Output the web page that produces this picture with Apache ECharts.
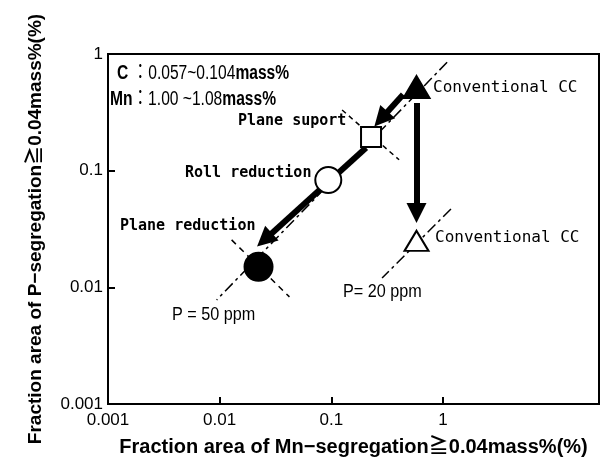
<!DOCTYPE html>
<html style="height: 100%">
<head>
    <meta charset="utf-8">
</head>
<body style="height: 100%; margin: 0; background: #fff">
    <div id="container" style="width: 606px; height: 468px"></div>
    <script type="text/javascript" src="https://cdn.jsdelivr.net/npm/echarts@6/dist/echarts.min.js"></script>
    <script type="text/javascript">
        // points (x: Mn-segregation area, y: P-segregation area)
        var conventionalCC = [[0.58, 0.52]];
        var conventionalCC20 = [[0.58, 0.025]];
        var planeSupport = [[0.227, 0.194]];
        var rollReduction = [[0.094, 0.083]];
        var planeReduction = [[0.0223, 0.015]];

        // guide lines
        var p50Line = [[1.09, 0.85], [0.0094, 0.0078]];
        var p20Line = [[1.18, 0.047], [0.285, 0.012]];
        var supportCross = [[0.125, 0.331], [0.405, 0.124]];
        var reductionCross = [[0.0128, 0.0255], [0.0422, 0.00828]];

        // thick arrows (from, to)
        var arrows = [
            [[0.44, 0.45], [0.279, 0.277]],
            [[0.205, 0.157], [0.0252, 0.0255]],
            [[0.58, 0.38], [0.58, 0.0434]]
        ];

        var tickValues = [0.001, 0.01, 0.1, 1];

        var dom = document.getElementById("container");
        var myChart = echarts.init(dom, null, { renderer: 'canvas' });

        var sans = "'Liberation Sans', 'Noto Sans CJK JP', sans-serif";
        var mono = "'DejaVu Sans Mono', monospace";

        function guide(data, dash) {
            return {
                type: 'line',
                data: data,
                showSymbol: false,
                silent: true,
                z: 1,
                lineStyle: { color: '#000', width: 1.5, type: dash }
            };
        }

        function marker(data, symbol, size, fill) {
            return {
                type: 'scatter',
                data: data,
                symbol: symbol,
                symbolSize: size,
                z: 5,
                itemStyle: { color: fill, borderColor: '#000', borderWidth: 2, opacity: 1 }
            };
        }

        // narrow-looking text: squeeze horizontally
        function narrowText(x, y, text, size, sx, rich) {
            var st = {
                text: text,
                font: size + 'px ' + sans,
                fill: '#000',
                verticalAlign: 'middle'
            };
            if (rich) st.rich = rich;
            return { type: 'text', x: x, y: y, scaleX: sx, style: st, z: 10 };
        }

        var infoRich = {
            b: { fontSize: 20, fontWeight: 'bold', fontFamily: sans, fill: '#000' },
            n: { fontSize: 20, fontFamily: sans, fill: '#000' }
        };

        var option = {
            backgroundColor: '#fff',
            animation: false,
            grid: {
                left: 108, right: 7, top: 54, bottom: 64,
                show: true, borderColor: '#000', borderWidth: 2
            },
            xAxis: {
                type: 'log',
                logBase: 10,
                min: 0.001,
                max: 25,
                name: 'Fraction area of Mn\u2212segregation\u22670.04mass%(%)',
                nameLocation: 'middle',
                nameGap: 33,
                nameTextStyle: { color: '#000', fontSize: 20, fontWeight: 'bold', fontFamily: sans },
                axisLine: { lineStyle: { color: '#000', width: 2 } },
                axisTick: { inside: true, length: 7, customValues: [0.01, 0.1, 1], lineStyle: { color: '#000', width: 2 } },
                axisLabel: {
                    customValues: tickValues,
                    color: '#000', fontSize: 17, fontFamily: sans, margin: 8,
                    formatter: function (v) { return String(v); }
                },
                splitLine: { show: false }
            },
            yAxis: {
                type: 'log',
                logBase: 10,
                min: 0.001,
                max: 1,
                name: 'Fraction area of P\u2212segregation\u22670.04mass%(%)',
                nameLocation: 'middle',
                nameGap: 63,
                nameTextStyle: { color: '#000', fontSize: 19, fontWeight: 'bold', fontFamily: sans },
                axisLine: { lineStyle: { color: '#000', width: 2 } },
                axisTick: { inside: true, length: 7, customValues: [0.01, 0.1], lineStyle: { color: '#000', width: 2 } },
                axisLabel: {
                    customValues: tickValues,
                    color: '#000', fontSize: 17, fontFamily: sans, margin: 5,
                    formatter: function (v) { return String(v); }
                },
                splitLine: { show: false }
            },
            series: [
                guide(p50Line, [11, 4, 3, 4]),
                guide(p20Line, [11, 4, 3, 4]),
                guide(supportCross, [5, 4]),
                guide(reductionCross, [6, 5]),
                {
                    type: 'lines',
                    coordinateSystem: 'cartesian2d',
                    z: 3,
                    symbol: ['none', 'triangle'],
                    symbolSize: [15, 20],
                    lineStyle: { color: '#000', width: 6, opacity: 1, curveness: 0 },
                    data: arrows.map(function (a) { return { coords: a }; })
                },
                marker(conventionalCC, 'triangle', [26, 22], '#000'),
                marker(conventionalCC20, 'triangle', [24, 20], '#fff'),
                marker(planeSupport, 'rect', 20, '#fff'),
                marker(rollReduction, 'circle', 26, '#fff'),
                marker(planeReduction, 'circle', 28, '#000')
            ],
            graphic: [
                narrowText(117, 73, '{b|C} \uff1a{n|0.057~0.104}{b|mass%}', 20, 0.78, infoRich),
                narrowText(110, 99, '{b|Mn}\uff1a{n|1.00 ~1.08}{b|mass%}', 20, 0.78, infoRich),
                { type: 'text', left: 433, top: 80, style: { text: 'Conventional CC', font: '16px ' + mono, fill: '#000' } },
                { type: 'text', left: 435, top: 230, style: { text: 'Conventional CC', font: '16px ' + mono, fill: '#000' } },
                { type: 'text', left: 238, top: 114, style: { text: 'Plane suport', font: 'bold 15px ' + mono, fill: '#000' } },
                { type: 'text', left: 185, top: 166, style: { text: 'Roll reduction', font: 'bold 15px ' + mono, fill: '#000' } },
                { type: 'text', left: 120, top: 219, style: { text: 'Plane reduction', font: 'bold 15px ' + mono, fill: '#000' } },
                narrowText(172, 315, 'P = 50 ppm', 18, 0.9),
                narrowText(343, 292, 'P= 20 ppm', 18, 0.9)
            ]
        };

        myChart.setOption(option);
    </script>
</body>
</html>
